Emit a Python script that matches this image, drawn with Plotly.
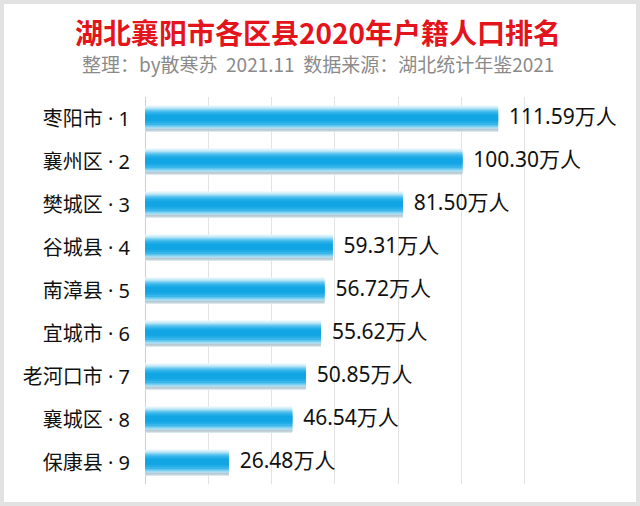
import plotly.graph_objects as go

districts = ["枣阳市 · 1", "襄州区 · 2", "樊城区 · 3", "谷城县 · 4", "南漳县 · 5",
             "宜城市 · 6", "老河口市 · 7", "襄城区 · 8", "保康县 · 9"]
population = [111.59, 100.30, 81.50, 59.31, 56.72, 55.62, 50.85, 46.54, 26.48]
labels = ["%.2f万人" % v for v in population]

FONT = "Noto Sans, Noto Sans CJK SC"
CJK = "Noto Sans CJK SC"

# plot area in pixels: x 145..588, y 97..484
L, R, T, B = 145, 588, 97, 484
W, H = R - L, B - T

def px(x):
    return (x - L) / W

def py(y):
    return (B - y) / H

fig = go.Figure()

# fake cylinder look: overlaid bars of shrinking width, darker toward the middle,
# plus a greyish strip along the lower edge
layers = [(-0.30, 0.30, "#e8f6fc"), (-0.28, 0.30, "#d2eef9"),
          (0.16, 0.30, "#cfdbe1"), (0.20, 0.28, "#b9c9d1"),
          (-0.25, 0.24, "#b0e2f6"), (-0.22, 0.21, "#86d3f2"),
          (-0.19, 0.18, "#5dc4ee"), (-0.16, 0.15, "#38b6ea"),
          (-0.12, 0.10, "#1eabe6"), (-0.08, 0.05, "#12a5e3")]
for y0, y1, col in layers:
    fig.add_trace(go.Bar(
        y=districts, x=population, orientation="h",
        width=y1 - y0, offset=y0,
        marker=dict(color=col, line=dict(width=0)),
        hoverinfo="skip", showlegend=False,
    ))

fig.add_trace(go.Scatter(
    y=districts, x=population, mode="text",
    text=["  " + t for t in labels], textposition="middle right",
    textfont=dict(family=FONT, size=21, color="#111111"),
    showlegend=False, cliponaxis=False, hoverinfo="skip",
))

fig.update_layout(
    width=640, height=506,
    barmode="overlay",
    paper_bgcolor="white", plot_bgcolor="white",
    margin=dict(l=L, r=640 - R, t=T, b=506 - B, autoexpand=False),
    xaxis=dict(range=[0, 140], dtick=20, showticklabels=False, automargin=False,
               showgrid=True, gridcolor="#e3e3e3", gridwidth=1,
               zeroline=True, zerolinecolor="#cfcfcf", zerolinewidth=1),
    yaxis=dict(autorange="reversed", showgrid=False, ticks="", automargin=False,
               ticklabelstandoff=14,
               tickfont=dict(family=FONT, size=20, color="#111111")),
    annotations=[
        dict(text="<b>湖北襄阳市各区县2020年户籍人口排名</b>", xref="paper", yref="paper",
             x=px(318), y=py(32), xanchor="center", yanchor="middle", showarrow=False,
             font=dict(family=CJK, size=28, color="#e3141c")),
        dict(text="整理：by散寒苏  2021.11  数据来源：湖北统计年鉴2021", xref="paper", yref="paper",
             x=px(318), y=py(63), xanchor="center", yanchor="middle", showarrow=False,
             font=dict(family=CJK, size=19, color="#8a8a8a")),
    ],
    shapes=[dict(type="rect", xref="paper", yref="paper",
                 x0=px(2), x1=px(638), y0=py(504), y1=py(2),
                 line=dict(color="#e2e2e2", width=4), layer="below")],
)

# the page's default body margin would shift the figure by 8px
fig.write_html("out.html", config={"displayModeBar": False},
               post_script="document.body.style.margin='0';")
